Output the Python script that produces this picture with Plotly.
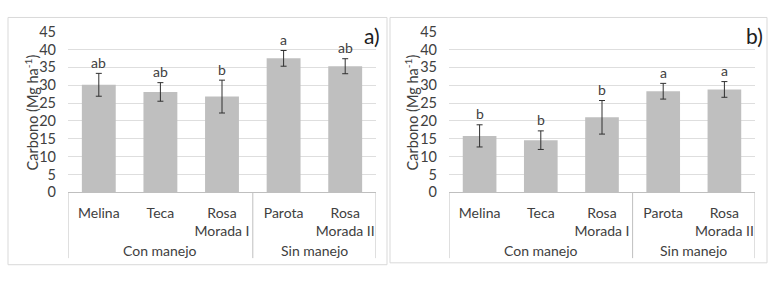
import plotly.graph_objects as go

categories = ["Melina", "Teca", "Rosa<br>Morada I", "Parota", "Rosa<br>Morada II"]
groups = ["Con manejo", "Sin manejo"]
group_centers = [1, 3.5]
group_edges = [-0.5, 2.5, 4.5]

vals_a = [30.1, 28.1, 26.8, 37.5, 35.3]
err_a = [3.2, 2.6, 4.6, 2.2, 2.1]
letters_a = ["ab", "ab", "b", "a", "ab"]

vals_b = [15.8, 14.6, 21.0, 28.3, 28.8]
err_b = [3.1, 2.6, 4.7, 2.2, 2.2]
letters_b = ["b", "b", "b", "a", "a"]

W, H = 784, 284
FONT = "Lato"
TXT = "#404040"
BAR = "#bfbfbf"
GRID = "#dedede"

def px(x):
    return x / W

def py(y):
    return (H - y) / H

fig = go.Figure()

panels = [
    dict(vals=vals_a, err=err_a, letters=letters_a, xa="x", ya="y", frame=[8, 9, 387, 272], lab="a)", labx=372, ytitle_x=31),
    dict(vals=vals_b, err=err_b, letters=letters_b, xa="x2", ya="y2", frame=[390, 9, 767, 270], lab="b)", labx=754, ytitle_x=411),
]

shapes = []
annotations = []
for i, p in enumerate(panels):
    fig.add_trace(go.Bar(
        x=categories, y=p["vals"], xaxis=p["xa"], yaxis=p["ya"],
        marker=dict(color=BAR, line=dict(width=0)),
        error_y=dict(type="data", array=p["err"], color="#303030", thickness=1, width=3),
        showlegend=False, hoverinfo="skip",
    ))
    for j, (v, e, t) in enumerate(zip(p["vals"], p["err"], p["letters"])):
        annotations.append(dict(x=j, y=v + e, xref=p["xa"], yref=p["ya"], text=t, showarrow=False,
                                yanchor="middle", yshift=11, font=dict(family=FONT, size=14, color=TXT)))
    for g, c in zip(groups, group_centers):
        annotations.append(dict(x=c, y=py(257), xref=p["xa"], yref="paper", text=g, showarrow=False,
                                yanchor="middle", font=dict(family=FONT, size=14, color=TXT)))
    for e in group_edges:
        shapes.append(dict(type="line", xref=p["xa"], yref="paper", x0=e, x1=e, y0=py(195), y1=py(265),
                           line=dict(color=BAR, width=1)))
    x0, y0, x1, y1 = p["frame"]
    shapes.append(dict(type="rect", xref="paper", yref="paper", x0=px(x0), x1=px(x1), y0=py(y1), y1=py(y0),
                       line=dict(color="#d9d9d9", width=1)))
    annotations.append(dict(x=px(p["labx"]), y=py(28), xref="paper", yref="paper", text=p["lab"], showarrow=False,
                            xanchor="center", yanchor="middle", font=dict(family=FONT, size=21, color="#202020")))
    annotations.append(dict(x=px(p["ytitle_x"]), y=py(110), xref="paper", yref="paper",
                            text="Carbono (Mg ha<sup>-1</sup>)", textangle=-90, showarrow=False,
                            xanchor="center", yanchor="middle", font=dict(family=FONT, size=14.5, color=TXT)))

ydom = [py(195), py(24)]
axis_common_x = dict(type="category", range=[-0.5, 4.5], showgrid=False, showline=True, linecolor=BAR, linewidth=1,
                     ticks="", ticklabelstandoff=8, tickfont=dict(family=FONT, size=14, color=TXT), fixedrange=True)
axis_common_y = dict(range=[0, 45], dtick=5, showgrid=True, gridcolor=GRID, gridwidth=1, zeroline=False,
                     showline=False, ticks="", tickfont=dict(family=FONT, size=14.5, color=TXT), ticklabelstandoff=11,
                     fixedrange=True)

fig.update_layout(
    width=W, height=H, autosize=False, margin=dict(l=0, r=0, t=0, b=0, pad=0),
    paper_bgcolor="white", plot_bgcolor="white",
    bargap=0.45,
    xaxis=dict(domain=[px(68), px(376)], anchor="y", **axis_common_x),
    yaxis=dict(domain=ydom, anchor="x", **axis_common_y),
    xaxis2=dict(domain=[px(449), px(755)], anchor="y2", **axis_common_x),
    yaxis2=dict(domain=ydom, anchor="x2", **axis_common_y),
    shapes=shapes, annotations=annotations,
)

fig.write_html("out.html", config=dict(displayModeBar=False, responsive=False),
               post_script="document.body.style.margin='0';document.body.style.overflow='hidden';")
